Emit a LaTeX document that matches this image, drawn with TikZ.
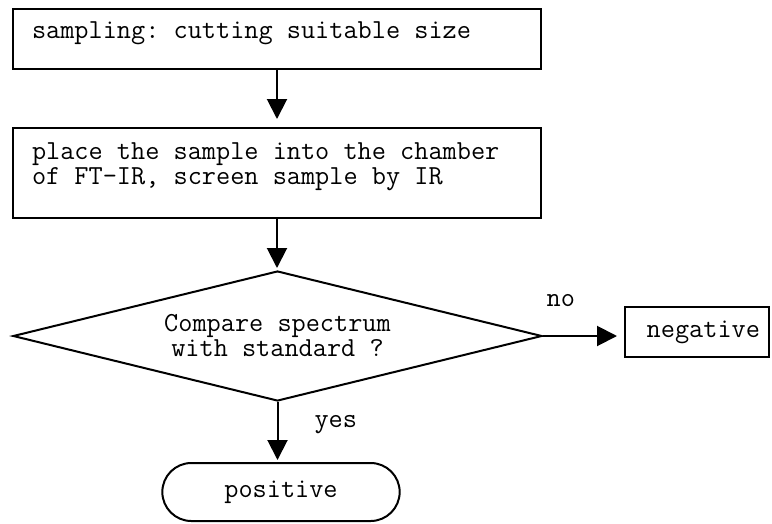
\documentclass[tikz,border=0pt]{standalone}
\usepackage{fontspec}
\usepackage{tikz}
\usetikzlibrary{arrows.meta}
\usetikzlibrary{calc}
\usetikzlibrary{shapes.geometric,shapes.misc,positioning}
\frenchspacing

\begin{document}
\begin{tikzpicture}[x=1pt, y=-1pt, line width=2pt,
        every node/.style={font=\ttfamily\fontsize{27.5pt}{25pt}\selectfont},
        stepbox/.style={draw, anchor=north west, text width=490pt, align=left,
            inner xsep=19pt, inner ysep=12pt, text height=17pt,
            execute at begin node={\spaceskip=0pt\xspaceskip=0pt\relax}},
        decision/.style={draw, diamond, aspect=4, minimum width=529pt,
            minimum height=130pt, inner sep=0pt, align=center},
        endbox/.style={draw, minimum width=144pt, minimum height=50pt,
            text width=126pt, inner xsep=9pt, align=right},
        terminal/.style={draw, rounded rectangle, minimum width=244pt, minimum height=58pt},
        flow/.style={-{Triangle[length=20pt,width=20pt]}}]
        % IR screening flow chart
        \useasboundingbox (0,0) rectangle (772,523);
        \node[stepbox, text depth=19pt] (cut) at (12,8) {sampling: cutting suitable size};
        \node[stepbox, text height=19pt, text depth=47pt] (place) at (12,127)
            {place the sample into the chamber\\of FT-IR, screen sample by IR};
        \node[decision] (compare) at (277.5,336) {Compare spectrum\\with standard ?};
        \node[endbox] (negative) at (697,332) {negative};
        \node[terminal] (positive) at (281,492) {positive};

        \draw[flow, shorten >=8pt] (cut) -- (place);
        \draw[flow, shorten >=2pt] (place) -- (place.south |- compare.north);
        \draw[flow, shorten >=7pt] (compare.east) -- node[pos=0.22, above=28pt, inner sep=0pt] {no}
            (compare.east -| negative.west);
        \draw[flow, shorten >=2pt] (compare.south) -- node[pos=0.37, right=36pt, inner sep=0pt] {yes}
            (compare.south |- positive.north);
    \end{tikzpicture}
\end{document}
